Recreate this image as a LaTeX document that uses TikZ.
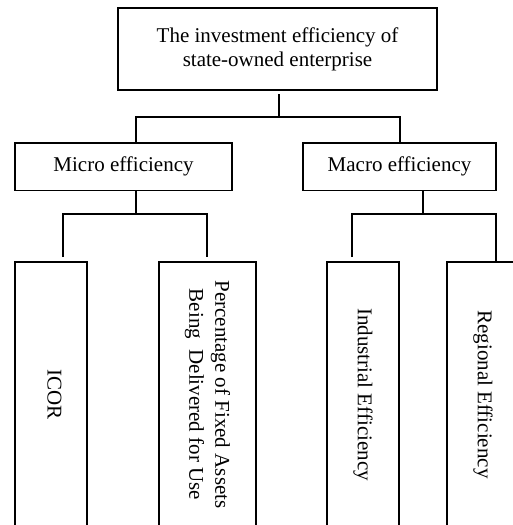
\documentclass[tikz,border=0pt]{standalone}
\usepackage{fontspec}
\setmainfont{Liberation Serif}
\begin{document}
\begin{tikzpicture}[x=1pt,y=-1pt,
  box/.style={draw,line width=1.6pt,inner sep=0pt,align=center,font=\fontsize{21}{24}\selectfont},
  vbox/.style={box,rotate=-90,minimum width=265pt},
  conn/.style={line width=1.6pt}]
\useasboundingbox (0,0) rectangle (513,525);
\clip (0,0) rectangle (513,525);
\node[box,minimum width=319pt,minimum height=82pt] (top) at (277.5,49) {The investment efficiency of\\state-owned enterprise};
\node[box,minimum width=217pt,minimum height=47.5pt] (micro) at (123.5,166.75) {Micro efficiency};
\node[box,minimum width=193pt,minimum height=47.5pt] (macro) at (399.5,166.75) {Macro efficiency};
\node[vbox,minimum height=72pt,text depth=7pt] (icor) at (51,394.5) {ICOR};
\node[vbox,minimum height=97pt,font=\fontsize{21}{26}\selectfont] (perc) at (207.5,394.5) {Percentage of Fixed Assets\\Being\ \ Delivered for Use};
\node[vbox,minimum height=72pt] (indus) at (363,394.5) {Industrial Efficiency};
\node[vbox,minimum height=72pt] (region) at (483,394.5) {Regional Efficiency};
% junctions
\coordinate (t0) at (279,94);
\coordinate (t1) at (279,117);
\coordinate (ta) at (136,117);
\coordinate (tb) at (400,117);
\coordinate (m1) at (136,214);
\coordinate (ma) at (63,214);
\coordinate (mb) at (207,214);
\coordinate (ma2) at (63,257);
\coordinate (mb2) at (207,257);
\coordinate (n1) at (423,214);
\coordinate (na) at (352,214);
\coordinate (nb) at (496,214);
\coordinate (na2) at (352,257);
\coordinate (nb2) at (496,262);
\draw[conn] (t0) -- (t1);
\draw[conn] (ta |- micro.north) -- (ta) -- (tb) -- (tb |- macro.north);
\draw[conn] (m1 |- micro.south) -- (m1);
\draw[conn] (ma2) -- (ma) -- (mb) -- (mb2);
\draw[conn] (n1 |- macro.south) -- (n1);
\draw[conn] (na2) -- (na) -- (nb) -- (nb2);
\end{tikzpicture}
\end{document}
